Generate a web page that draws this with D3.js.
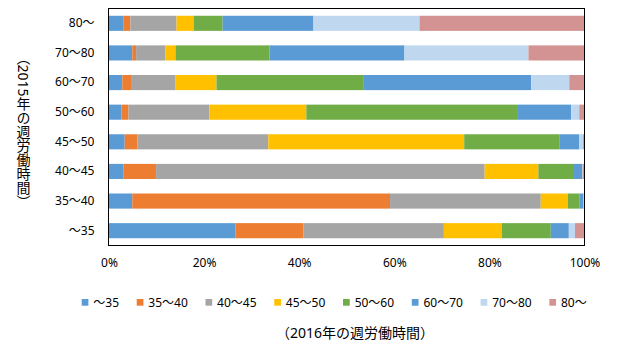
<!DOCTYPE html>
<html><head><meta charset="utf-8">
<script src="https://cdn.jsdelivr.net/npm/d3@7"></script>
<style>
body{margin:0;background:#fff;}
text{font-family:"Noto Sans","Noto Sans CJK JP",sans-serif;fill:#000;}
</style></head>
<body><svg id="c" width="640" height="344"></svg>
<script>
// data (percent shares; rows = 2015 weekly working hours, series = 2016 weekly working hours)
const categories = ["80～","70～80","60～70","50～60","45～50","40～45","35～40","～35"];
const seriesNames = ["～35","35～40","40～45","45～50","50～60","60～70","70～80","80～"];
const s_lt35   = [3.0, 4.9, 2.8, 2.6, 3.3, 3.0, 4.9, 26.6];
const s_35_40  = [1.5, 0.8, 2.0, 1.5, 2.7, 6.9, 54.2, 14.3];
const s_40_45  = [9.7, 6.2, 9.2, 17.0, 27.5, 69.1, 31.7, 29.6];
const s_45_50  = [3.6, 2.1, 8.6, 20.4, 41.2, 11.3, 5.7, 12.2];
const s_50_60  = [6.1, 19.8, 31.0, 44.5, 20.1, 7.5, 2.5, 10.3];
const s_60_70  = [19.1, 28.4, 35.2, 11.2, 4.1, 1.7, 0.8, 3.8];
const s_70_80  = [22.3, 26.1, 8.0, 1.7, 0.8, 0.1, 0.1, 1.3];
const s_ge80   = [34.7, 11.8, 3.2, 1.1, 0.3, 0.4, 0.1, 2.0];
const seriesValues = [s_lt35, s_35_40, s_40_45, s_45_50, s_50_60, s_60_70, s_70_80, s_ge80];
const xTicks = [0, 0.2, 0.4, 0.6, 0.8, 1.0];
const colors = ["#5B9BD5","#ED7D31","#A5A5A5","#FFC000","#70AD47","#5B9BD5","#C0D8EF","#D39392"];
const xTitle = "（2016年の週労働時間）";
const yTitle = "（2015年の週労働時間）";

const svg = d3.select("#c");
const L = 108.5, R = 584.5, T = 8.5, B = 245.5;

const table = categories.map((c, i) => {
  const o = {cat: c};
  seriesNames.forEach((s, j) => o[s] = seriesValues[j][i]);
  return o;
});
const stack = d3.stack().keys(seriesNames).offset(d3.stackOffsetExpand)(table);

const x = d3.scaleLinear().domain([0, 1]).range([L + 0.5, R]);
const y = d3.scaleBand().domain(categories).range([T, B]).paddingInner(0.49).paddingOuter(0.245);
const color = d3.scaleOrdinal().domain(seriesNames).range(colors);

svg.append("g").selectAll("g").data(stack).join("g")
  .attr("fill", d => color(d.key))
  .selectAll("rect").data(d => d).join("rect")
  .attr("x", d => x(d[0]))
  .attr("width", d => Math.max(0, x(d[1]) - x(d[0])))
  .attr("y", d => y(d.data.cat))
  .attr("height", y.bandwidth());

// plot border
svg.append("rect").attr("x", L).attr("y", T).attr("width", R - L).attr("height", B - T)
  .attr("fill", "none").attr("stroke", "#000").attr("stroke-width", 1);

// x axis labels
const xAxis = d3.axisBottom(x).tickValues(xTicks).tickFormat(d3.format(".0%")).tickSize(0).tickPadding(13);
const gx = svg.append("g").attr("transform", `translate(0,${B})`).call(xAxis);
gx.select(".domain").remove();
gx.selectAll("text").attr("font-size", 12).attr("font-family", null).attr("fill", "#000");

// y axis labels
const yAxis = d3.axisLeft(y).tickSize(0).tickPadding(14);
const gy = svg.append("g").attr("transform", `translate(${L},0)`).call(yAxis);
gy.select(".domain").remove();
gy.selectAll("text").attr("font-size", 12).attr("font-family", null).attr("fill", "#000");

// legend
const lg = svg.append("g");
let lx = 81.7;
seriesNames.forEach((s, i) => {
  lg.append("rect").attr("x", lx).attr("y", 299).attr("width", 6.7).attr("height", 6.7).attr("fill", colors[i]);
  const t = lg.append("text").attr("x", lx + 11.6).attr("y", 306.5).attr("font-size", 12).text(s);
  lx += 11.6 + t.node().getComputedTextLength() + 17.7;
});

// axis titles
svg.append("text").attr("x", 355).attr("y", 338).attr("text-anchor", "middle").attr("font-size", 14).text(xTitle);
svg.append("text").attr("x", 23).attr("y", 129.5).attr("text-anchor", "middle")
  .attr("font-size", 14).attr("writing-mode", "vertical-rl").text(yTitle);
</script></body></html>
